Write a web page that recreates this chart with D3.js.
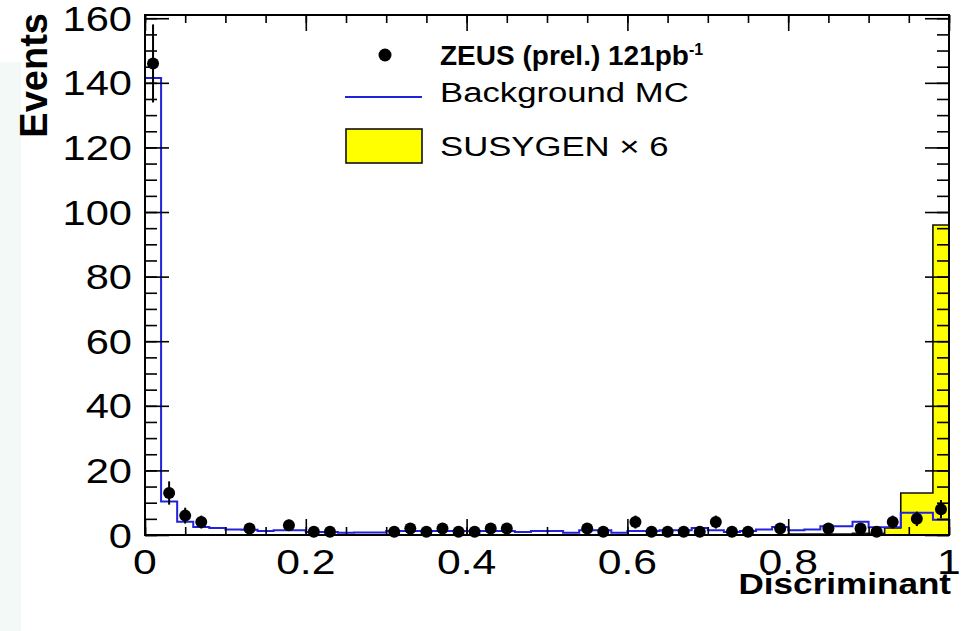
<!DOCTYPE html>
<html><head><meta charset="utf-8">
<script src="https://cdn.jsdelivr.net/npm/d3@7"></script>
<style>body{margin:0;background:#fff}svg{display:block}</style>
</head><body>
<svg id="c" width="964" height="631"></svg>
<script>
// ---- data ----
const binWidth = 0.02;
const backgroundMC = [141.5,10.4,4.1,2.5,2.2,1.7,1.6,1.2,1.5,1.5,
  0.9,0.9,0.7,0.8,0.8,1.2,1.2,1.2,1.2,1.2,
  1.2,1.2,1.2,0.9,1.2,1.2,0.7,1.5,1.5,0.7,
  1.2,1.2,1.5,1.5,2.2,1.5,0.9,1.2,1.7,2.5,
  1.5,1.7,2.7,2.7,4.1,2.4,2.4,6.9,6.9,4.7];
const susygenX6 = [0,0,0,0,0,0,0,0,0,0,
  0,0,0,0,0,0,0,0,0,0,
  0,0,0,0,0,0,0,0,0,0,
  0,0,0,0,0,0,0,0,0,0,
  0.3,0.3,0.3,0.3,0.5,0.5,2.2,13,13,96];
const dataX = [0.01,0.03,0.05,0.07,0.13,0.179,0.21,0.23,0.31,0.33,0.35,0.37,0.39,0.41,0.43,0.45,
  0.55,0.57,0.61,0.63,0.65,0.67,0.69,0.71,0.73,0.75,0.79,0.85,0.89,0.91,0.93,0.96,0.99];
const dataN = [146,13,6,4,2,3,1,1,1,2,1,2,1,1,2,2,
  2,1,4,1,1,1,1,4,1,1,2,2,2,1,4,5,8];
const xTickValues = [0,0.2,0.4,0.6,0.8,1];
const xTickLabels = ["0","0.2","0.4","0.6","0.8","1"];
const yTickValues = [0,20,40,60,80,100,120,140,160];
const yTickLabels = ["0","20","40","60","80","100","120","140","160"];
const legendLabels = ["ZEUS (prel.) 121pb", "Background MC", "SUSYGEN \u00d7 6"];

// ---- layout ----
const svg = d3.select("#c");
const L = 145, R = 949, T = 15, B = 535;
const x = d3.scaleLinear().domain([0,1]).range([L,R]);
const y = d3.scaleLinear().domain([0,161]).range([B,T]);
const FONT = "'Liberation Sans', Arial, Helvetica, sans-serif";

svg.append("rect").attr("x",0).attr("y",62).attr("width",21).attr("height",569).attr("fill","#f3f9f7");

function txt(str, tx, ty, o) {
  const t = svg.append("text")
    .attr("transform", `translate(${tx},${ty}) ${o.rot?`rotate(${o.rot})`:""} scale(${o.sx||1},1)`)
    .attr("font-family", FONT).attr("font-size", o.size)
    .attr("font-weight", o.weight||"normal")
    .attr("text-anchor", o.anchor||"start").attr("fill","#000").text(str);
  return t;
}

// bins as edges
const edges = backgroundMC.map((v,i)=>i*binWidth);
const stepPts = arr => arr.map((v,i)=>[edges[i],v]).concat([[1,arr[arr.length-1]]]);

// SUSYGEN filled histogram
const area = d3.area().curve(d3.curveStepAfter).x(d=>x(d[0])).y0(y(0)).y1(d=>y(d[1]));
const firstNZ = susygenX6.findIndex(v=>v>0);
const sPts = stepPts(susygenX6).slice(firstNZ);
svg.append("path").attr("d", area(sPts)).attr("fill","#ffff00").attr("stroke","#111").attr("stroke-width",1.6);

// Background MC line
const line = d3.line().curve(d3.curveStepAfter).x(d=>x(d[0])).y(d=>y(d[1]));
svg.append("path").attr("d", line([[0,0]].concat(stepPts(backgroundMC)).concat([[1,0]])))
  .attr("fill","none").attr("stroke","#2222dd").attr("stroke-width",2);

// axes ticks (inward)
const minorX = d3.range(0,1.0001,0.05), minorY = d3.range(0,161,5);
function axisG(axis, tr) {
  const g = svg.append("g").attr("transform", tr).call(axis);
  g.select(".domain").remove();
  g.selectAll("line").attr("stroke","#000").attr("stroke-width",1.6);
  g.selectAll("text").remove();
}
axisG(d3.axisBottom(x).tickValues(xTickValues).tickSize(-16).tickFormat(""), `translate(0,${B})`);
axisG(d3.axisBottom(x).tickValues(minorX).tickSize(-8).tickFormat(""), `translate(0,${B})`);
axisG(d3.axisTop(x).tickValues(xTickValues).tickSize(-16).tickFormat(""), `translate(0,${T})`);
axisG(d3.axisTop(x).tickValues(minorX).tickSize(-8).tickFormat(""), `translate(0,${T})`);
axisG(d3.axisLeft(y).tickValues(yTickValues).tickSize(-24).tickFormat(""), `translate(${L},0)`);
axisG(d3.axisLeft(y).tickValues(minorY).tickSize(-12).tickFormat(""), `translate(${L},0)`);
axisG(d3.axisRight(y).tickValues(yTickValues).tickSize(-24).tickFormat(""), `translate(${R},0)`);
axisG(d3.axisRight(y).tickValues(minorY).tickSize(-12).tickFormat(""), `translate(${R},0)`);

// frame
svg.append("rect").attr("x",L).attr("y",T).attr("width",R-L).attr("height",B-T)
  .attr("fill","none").attr("stroke","#000").attr("stroke-width",2);

// data points
const pts = svg.append("g");
dataX.forEach((xv,i)=>{
  const n = dataN[i], e = Math.sqrt(n);
  pts.append("line").attr("x1",x(xv)).attr("x2",x(xv)).attr("y1",y(n+e)).attr("y2",y(Math.max(0,n-e)))
    .attr("stroke","#000").attr("stroke-width",2);
  pts.append("circle").attr("cx",x(xv)).attr("cy",y(n)).attr("r",6).attr("fill","#000");
});

// tick labels
yTickValues.forEach((v,i)=>txt(yTickLabels[i], 132, y(v)+12.5, {size:35, sx:1.19, anchor:"end"}));
xTickValues.forEach((v,i)=>txt(xTickLabels[i], x(v), 574, {size:35, sx:1.22, anchor:"middle"}));

// axis titles
txt("Discriminant", 951, 594, {size:30, weight:"bold", sx:1.17, anchor:"end"});
txt("Events", 47, 13, {size:38, weight:"bold", anchor:"end", rot:-90});

// legend
svg.append("circle").attr("cx",385).attr("cy",55).attr("r",6.5).attr("fill","#000");
const zt = txt("", 440, 65, {size:28, weight:"bold"});
zt.append("tspan").text(legendLabels[0]);
zt.append("tspan").attr("font-size",16).attr("dy",-10).text("-1");
svg.append("line").attr("x1",345).attr("x2",422).attr("y1",97).attr("y2",97).attr("stroke","#2222dd").attr("stroke-width",2);
txt(legendLabels[1], 440, 102, {size:28, sx:1.24});
svg.append("rect").attr("x",346).attr("y",129).attr("width",76).attr("height",34)
  .attr("fill","#ffff00").attr("stroke","#111").attr("stroke-width",1.6);
txt(legendLabels[2], 440, 156, {size:28, sx:1.24});
</script>
</body></html>
